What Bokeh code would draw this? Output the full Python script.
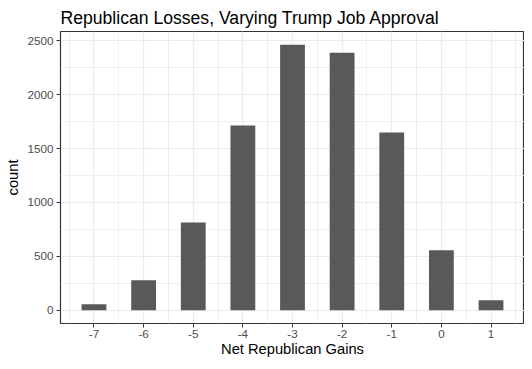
from bokeh.plotting import figure
from bokeh.models import FixedTicker, Range1d
from bokeh.embed import file_html
from bokeh.resources import INLINE

gains = [-7, -6, -5, -4, -3, -2, -1, 0, 1]
counts = [56, 278, 815, 1713, 2463, 2389, 1648, 556, 93]
y_ticks = [0, 500, 1000, 1500, 2000, 2500]
y_minor = [250, 750, 1250, 1750, 2250]
x_minor = [-7.5, -6.5, -5.5, -4.5, -3.5, -2.5, -1.5, -0.5, 0.5, 1.5]

FONT = "Liberation Sans"

p = figure(width=524, height=361, output_backend="svg", toolbar_location=None,
           x_range=Range1d(-7.675, 1.675), y_range=Range1d(-123.15, 2586.15),
           title="Republican Losses, Varying Trump Job Approval",
           min_border_left=60, min_border_right=0, min_border_top=31, min_border_bottom=38)

p.vbar(x=gains, top=counts, bottom=0, width=0.5, fill_color="#595959", line_color=None)

p.title.text_font = FONT
p.title.text_font_size = "17.6px"
p.title.text_font_style = "normal"
p.title.text_color = "#000000"
p.title.align = "left"
p.title.offset = 0
p.title.standoff = 7

p.outline_line_color = "#333333"
p.outline_line_width = 1.2
p.background_fill_color = "white"
p.border_fill_color = "white"

p.xaxis.ticker = FixedTicker(ticks=gains, minor_ticks=x_minor)
p.yaxis.ticker = FixedTicker(ticks=y_ticks, minor_ticks=y_minor)
p.xaxis.major_label_overrides = {g: str(g) for g in gains}

for ax in (p.xaxis[0], p.yaxis[0]):
    ax.axis_line_color = None
    ax.major_tick_line_color = "#333333"
    ax.major_tick_line_width = 1
    ax.major_tick_out = 4
    ax.major_tick_in = 0
    ax.minor_tick_line_color = None
    ax.major_label_text_font = FONT
    ax.major_label_text_font_size = "11.7px"
    ax.major_label_text_color = "#4D4D4D"
    ax.axis_label_text_font = FONT
    ax.axis_label_text_font_size = "14.7px"
    ax.axis_label_text_font_style = "normal"
    ax.axis_label_text_color = "#000000"

p.xaxis.major_label_standoff = 2
p.xaxis.axis_label_standoff = 0
p.yaxis.major_label_standoff = 3
p.yaxis.axis_label_standoff = 3

p.xaxis.axis_label = "Net Republican Gains"
p.yaxis.axis_label = "count"

for g in (p.xgrid[0], p.ygrid[0]):
    g.grid_line_color = "#EBEBEB"
    g.grid_line_width = 1.2
    g.minor_grid_line_color = "#EBEBEB"
    g.minor_grid_line_width = 0.8

open("out.html", "w").write(file_html(p, INLINE))
